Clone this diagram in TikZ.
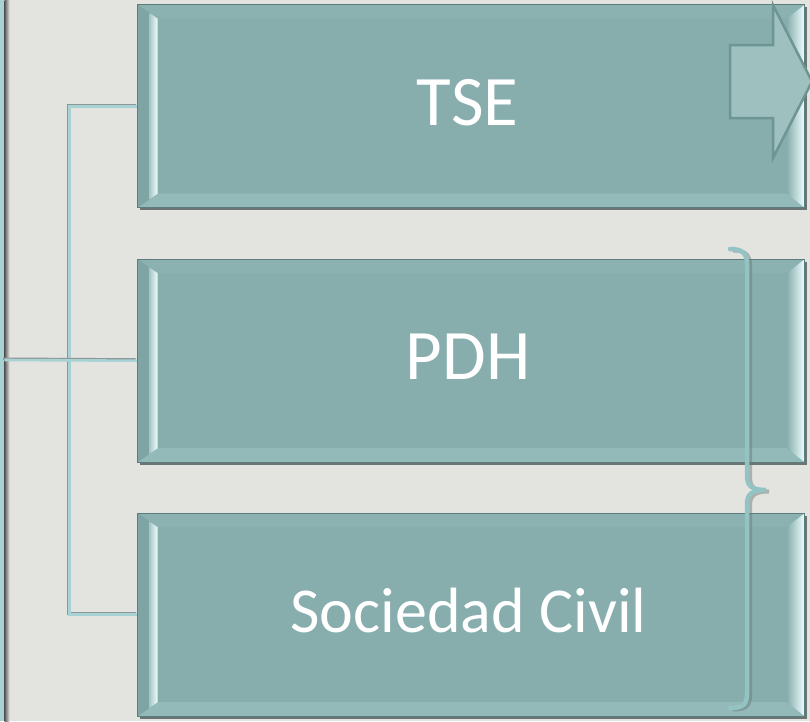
\documentclass[tikz,border=0pt]{standalone}
\usepackage{fontspec}
\setmainfont{Carlito}
\usetikzlibrary{calc}
\definecolor{bg}{HTML}{E3E3DF}
\definecolor{face}{HTML}{87ADAD}
\definecolor{edgec}{HTML}{5F7C7C}
\definecolor{bevdark}{HTML}{7EA4A4}
\definecolor{bevtop}{HTML}{8BB1B1}
\definecolor{bevbot}{HTML}{93B9B9}
\definecolor{bevhi}{HTML}{EEFFFF}
\definecolor{conn}{HTML}{A8D2D4}
\definecolor{connsh}{HTML}{8C9898}
\definecolor{shadowc}{HTML}{6B7575}
\definecolor{arrowfill}{HTML}{9EC1C0}
\definecolor{arrowedge}{HTML}{6E9494}
\definecolor{bracec}{HTML}{94C3C3}
\begin{document}
\begin{tikzpicture}[x=1pt,y=-1pt,
  box/.style={minimum width=667pt, minimum height=203pt, inner sep=0pt,
    anchor=north west, fill=face, draw=edgec, line width=1.4pt,
    preaction={fill=shadowc, transform canvas={xshift=2.5pt,yshift=-2.5pt}},
    path picture={
      \path (path picture bounding box.north west) coordinate (A)
            (path picture bounding box.south east) coordinate (B);
      \coordinate (C) at (A -| B);
      \coordinate (D) at (A |- B);
      \fill[bevtop] (A) -- (C) -- ($(C)+(-18,14)$) -- ($(A)+(20,14)$) -- cycle;
      \fill[bevbot] (D) -- (B) -- ($(B)+(-18,-14)$) -- ($(D)+(20,-14)$) -- cycle;
      \fill[bevdark] (A) -- ($(A)+(20,14)$) -- ($(D)+(20,-14)$) -- (D) -- cycle;
      \shade[left color=bevdark!60!bevhi, right color=bevhi]
        ($(A)+(12,8.4)$) -- ($(A)+(20,14)$) -- ($(D)+(20,-14)$) -- ($(D)+(12,-8.4)$) -- cycle;
      \shade[left color=face, right color=bevhi]
        (C) -- ($(C)+(-18,14)$) -- ($(B)+(-18,-14)$) -- (B) -- cycle;
    }},
  lbl/.style={text=white, inner sep=0pt, font=\fontsize{71}{80}\selectfont},
  lblsmall/.style={lbl, font=\fontsize{64}{72}\selectfont},
  connector/.style={draw=conn, line width=2.6pt,
    preaction={draw=connsh, line width=2.4pt, transform canvas={xshift=-1.3pt,yshift=1.3pt}}},
  bracestyle/.style={draw=bracec, line width=4.5pt, line cap=round,
    preaction={draw=shadowc, draw opacity=0.45, line width=4pt, transform canvas={xshift=3pt,yshift=-1.5pt}}},
  arrowshape/.style={fill=arrowfill, draw=arrowedge, line width=2.5pt, line join=miter},
]
\useasboundingbox (0,0) rectangle (810,721);
\clip (0,0) rectangle (810,721);
\fill[bg] (0,0) rectangle (810,721);

% left bar
\fill[conn] (0,0) rectangle (4.5,721);
\shade[left color=black!65, right color=bg] (4.5,0) rectangle (9.5,721);
\coordinate (bar) at (4.5,360);

% boxes
\node[box] (tse) at (137,4) {};
\node[box] (pdh) at (137,258.5) {};
\node[box] (sc)  at (137,512.5) {};

% connectors
\coordinate (j) at (69.5,360);
\draw[connector] (tse.west) -| (j |- sc.west) -- (sc.west);
\draw[connector] (bar) -- (pdh.west);

% labels
\node[lbl] (tset) at ($(tse.center)+(-3.5,-4)$) {TSE};
\node[lbl] (pdht) at ($(pdh.center)+(-3,-3.5)$) {PDH};
\node[lblsmall] (sct) at ($(sc.center)+(-2.5,-4)$) {Sociedad Civil};

% arrow
\draw[arrowshape] (730,45) -- (773,45) -- (773,5) -- (812,81.5) -- (773,158) -- (773,118) -- (730,118) -- cycle;

% brace
\draw[bracestyle] (730,249) .. controls (742,249) and (747,253) .. (747,264)
  -- (747,476) .. controls (747,486) and (752,490) .. (766,490)
  .. controls (752,490) and (747,494) .. (747,504)
  -- (747,694) .. controls (747,705) and (742,708) .. (730,708);
\end{tikzpicture}
\end{document}
